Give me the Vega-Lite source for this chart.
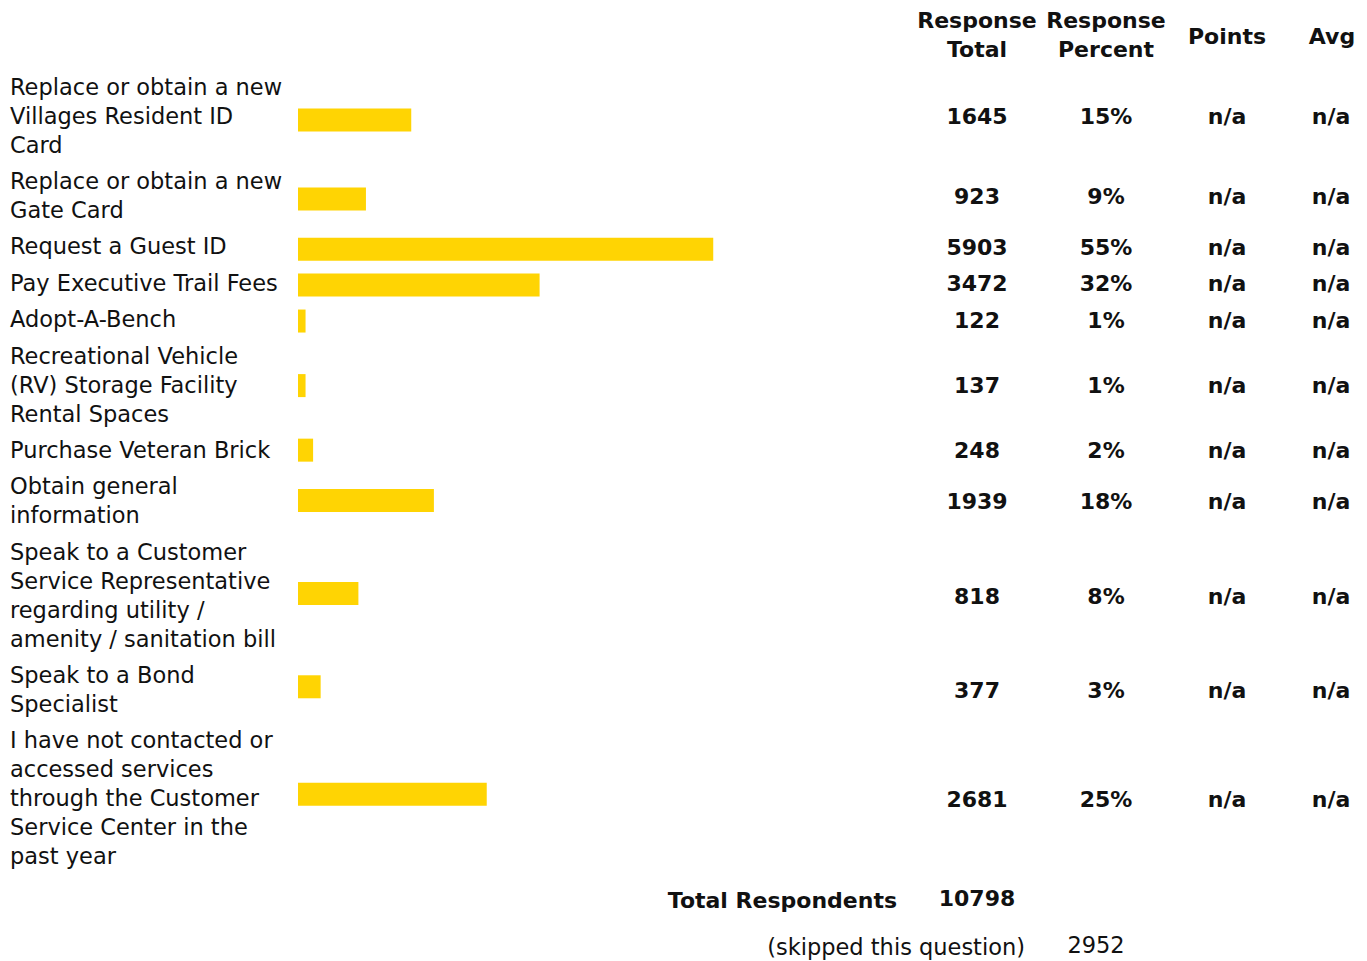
{
  "$schema": "https://vega.github.io/schema/vega-lite/v6.json",
  "padding": {"left": 10, "top": 0, "right": 0, "bottom": 0},
  "columns": 6,
  "spacing": 0,
  "bounds": "flush",
  "config": {
    "view": {"stroke": null},
    "text": {"font": "DejaVu Sans", "fontSize": 22.5, "color": "#111111", "baseline": "middle", "lineHeight": 29},
    "concat": {"spacing": 0}
  },
  "datasets": {
    "responses": [
      {"label": ["Replace or obtain a new", "Villages Resident ID", "Card"], "total": 1645, "share": 0.15, "points": "n/a", "avg": "n/a"},
      {"label": ["Replace or obtain a new", "Gate Card"], "total": 923, "share": 0.09, "points": "n/a", "avg": "n/a"},
      {"label": ["Request a Guest ID"], "total": 5903, "share": 0.55, "points": "n/a", "avg": "n/a"},
      {"label": ["Pay Executive Trail Fees"], "total": 3472, "share": 0.32, "points": "n/a", "avg": "n/a"},
      {"label": ["Adopt-A-Bench"], "total": 122, "share": 0.01, "points": "n/a", "avg": "n/a"},
      {"label": ["Recreational Vehicle", "(RV) Storage Facility", "Rental Spaces"], "total": 137, "share": 0.01, "points": "n/a", "avg": "n/a"},
      {"label": ["Purchase Veteran Brick"], "total": 248, "share": 0.02, "points": "n/a", "avg": "n/a"},
      {"label": ["Obtain general", "information"], "total": 1939, "share": 0.18, "points": "n/a", "avg": "n/a"},
      {"label": ["Speak to a Customer", "Service Representative", "regarding utility /", "amenity / sanitation bill"], "total": 818, "share": 0.08, "points": "n/a", "avg": "n/a"},
      {"label": ["Speak to a Bond", "Specialist"], "total": 377, "share": 0.03, "points": "n/a", "avg": "n/a"},
      {"label": ["I have not contacted or", "accessed services", "through the Customer", "Service Center in the", "past year"], "total": 2681, "share": 0.25, "points": "n/a", "avg": "n/a"}
    ],
    "summary": [
      {"respondents": 10798, "skipped": 2952}
    ],
    "blank": []
  },
  "concat": [
    {"width": 288, "height": 70, "data": {"name": "blank"}, "mark": "text", "encoding": {}},
    {"width": 615, "height": 70, "data": {"name": "blank"}, "mark": "text", "encoding": {}},
    {"width": 128, "height": 70, "data": {"values": [{}]}, "mark": {"type": "text", "text": ["Response", "Total"], "fontWeight": "bold", "fontSize": 22, "dy": -14}, "encoding": {}},
    {"width": 130, "height": 70, "data": {"values": [{}]}, "mark": {"type": "text", "text": ["Response", "Percent"], "fontWeight": "bold", "fontSize": 22, "dy": -14}, "encoding": {}},
    {"width": 112, "height": 70, "data": {"values": [{}]}, "mark": {"type": "text", "text": "Points", "fontWeight": "bold", "fontSize": 22, "dy": 1.5}, "encoding": {}},
    {"width": 84, "height": 70, "data": {"values": [{}]}, "mark": {"type": "text", "text": "Avg", "fontWeight": "bold", "fontSize": 22, "dy": 1.5, "dx": 7}, "encoding": {}},

    {
      "width": 288, "height": 806,
      "data": {"name": "responses"},
      "transform": [
        {"calculate": "length(datum.label) + 0.254", "as": "rowSpan"},
        {"window": [{"op": "sum", "field": "rowSpan", "as": "rowEnd"}], "frame": [null, 0]},
        {"calculate": "datum.rowEnd - datum.rowSpan + 0.127", "as": "rowTop"}
      ],
      "mark": {"type": "text", "align": "left", "baseline": "line-top"},
      "encoding": {
        "x": {"datum": 0, "type": "quantitative", "scale": {"domain": [0, 1]}, "axis": null},
        "y": {"field": "rowTop", "type": "quantitative", "scale": {"domain": [0, 27.793], "reverse": true, "nice": false, "zero": false}, "axis": null},
        "text": {"field": "label"}
      }
    },
    {
      "width": 615, "height": 806,
      "data": {"name": "responses"},
      "transform": [
        {"calculate": "length(datum.label) + 0.254", "as": "rowSpan"},
        {"window": [{"op": "sum", "field": "rowSpan", "as": "rowEnd"}], "frame": [null, 0]},
        {"calculate": "datum.rowEnd - datum.rowSpan / 2", "as": "rowMid"}
      ],
      "mark": {"type": "bar", "orient": "horizontal", "size": 23, "color": "#FFD403", "yOffset": -1.5},
      "encoding": {
        "x": {"field": "share", "type": "quantitative", "scale": {"domain": [0, 0.8146], "nice": false}, "axis": null},
        "y": {"field": "rowMid", "type": "quantitative", "scale": {"domain": [0, 27.793], "reverse": true, "nice": false, "zero": false}, "axis": null}
      }
    },
    {
      "width": 128, "height": 806,
      "data": {"name": "responses"},
      "transform": [
        {"calculate": "length(datum.label) + 0.254", "as": "rowSpan"},
        {"window": [{"op": "sum", "field": "rowSpan", "as": "rowEnd"}], "frame": [null, 0]},
        {"calculate": "datum.rowEnd - datum.rowSpan / 2", "as": "rowMid"}
      ],
      "mark": {"type": "text", "fontWeight": "bold", "fontSize": 22},
      "encoding": {
        "y": {"field": "rowMid", "type": "quantitative", "scale": {"domain": [0, 27.793], "reverse": true, "nice": false, "zero": false}, "axis": null},
        "text": {"field": "total", "type": "quantitative", "format": "d"}
      }
    },
    {
      "width": 130, "height": 806,
      "data": {"name": "responses"},
      "transform": [
        {"calculate": "length(datum.label) + 0.254", "as": "rowSpan"},
        {"window": [{"op": "sum", "field": "rowSpan", "as": "rowEnd"}], "frame": [null, 0]},
        {"calculate": "datum.rowEnd - datum.rowSpan / 2", "as": "rowMid"}
      ],
      "mark": {"type": "text", "fontWeight": "bold", "fontSize": 22},
      "encoding": {
        "y": {"field": "rowMid", "type": "quantitative", "scale": {"domain": [0, 27.793], "reverse": true, "nice": false, "zero": false}, "axis": null},
        "text": {"field": "share", "type": "quantitative", "format": ".0%"}
      }
    },
    {
      "width": 112, "height": 806,
      "data": {"name": "responses"},
      "transform": [
        {"calculate": "length(datum.label) + 0.254", "as": "rowSpan"},
        {"window": [{"op": "sum", "field": "rowSpan", "as": "rowEnd"}], "frame": [null, 0]},
        {"calculate": "datum.rowEnd - datum.rowSpan / 2", "as": "rowMid"}
      ],
      "mark": {"type": "text", "fontWeight": "bold", "fontSize": 22},
      "encoding": {
        "y": {"field": "rowMid", "type": "quantitative", "scale": {"domain": [0, 27.793], "reverse": true, "nice": false, "zero": false}, "axis": null},
        "text": {"field": "points"}
      }
    },
    {
      "width": 84, "height": 806,
      "data": {"name": "responses"},
      "transform": [
        {"calculate": "length(datum.label) + 0.254", "as": "rowSpan"},
        {"window": [{"op": "sum", "field": "rowSpan", "as": "rowEnd"}], "frame": [null, 0]},
        {"calculate": "datum.rowEnd - datum.rowSpan / 2", "as": "rowMid"}
      ],
      "mark": {"type": "text", "fontWeight": "bold", "fontSize": 22, "dx": 6},
      "encoding": {
        "y": {"field": "rowMid", "type": "quantitative", "scale": {"domain": [0, 27.793], "reverse": true, "nice": false, "zero": false}, "axis": null},
        "text": {"field": "avg"}
      }
    },

    {"width": 288, "height": 48, "data": {"name": "blank"}, "mark": "text", "encoding": {}},
    {
      "width": 615, "height": 48,
      "data": {"name": "summary"},
      "mark": {"type": "text", "text": "Total Respondents", "fontWeight": "bold", "fontSize": 22, "align": "right", "dx": -16, "dy": 1},
      "encoding": {"x": {"datum": 1, "type": "quantitative", "scale": {"domain": [0, 1]}, "axis": null}}
    },
    {
      "width": 128, "height": 48,
      "data": {"name": "summary"},
      "mark": {"type": "text", "fontWeight": "bold", "fontSize": 22, "dy": -1},
      "encoding": {"text": {"field": "respondents", "type": "quantitative", "format": "d"}}
    },
    {"width": 130, "height": 48, "data": {"name": "blank"}, "mark": "text", "encoding": {}},
    {"width": 112, "height": 48, "data": {"name": "blank"}, "mark": "text", "encoding": {}},
    {"width": 84, "height": 48, "data": {"name": "blank"}, "mark": "text", "encoding": {}},

    {"width": 288, "height": 32, "data": {"name": "blank"}, "mark": "text", "encoding": {}},
    {"width": 615, "height": 32, "data": {"name": "blank"}, "mark": "text", "encoding": {}},
    {
      "width": 128, "height": 32,
      "data": {"name": "summary"},
      "mark": {"type": "text", "text": "(skipped this question)", "align": "right", "dx": -16, "dy": 8},
      "encoding": {"x": {"datum": 1, "type": "quantitative", "scale": {"domain": [0, 1]}, "axis": null}}
    },
    {
      "width": 130, "height": 32,
      "data": {"name": "summary"},
      "mark": {"type": "text", "dx": -10, "dy": 6},
      "encoding": {"text": {"field": "skipped", "type": "quantitative", "format": "d"}}
    },
    {"width": 112, "height": 32, "data": {"name": "blank"}, "mark": "text", "encoding": {}},
    {"width": 84, "height": 32, "data": {"name": "blank"}, "mark": "text", "encoding": {}}
  ]
}
